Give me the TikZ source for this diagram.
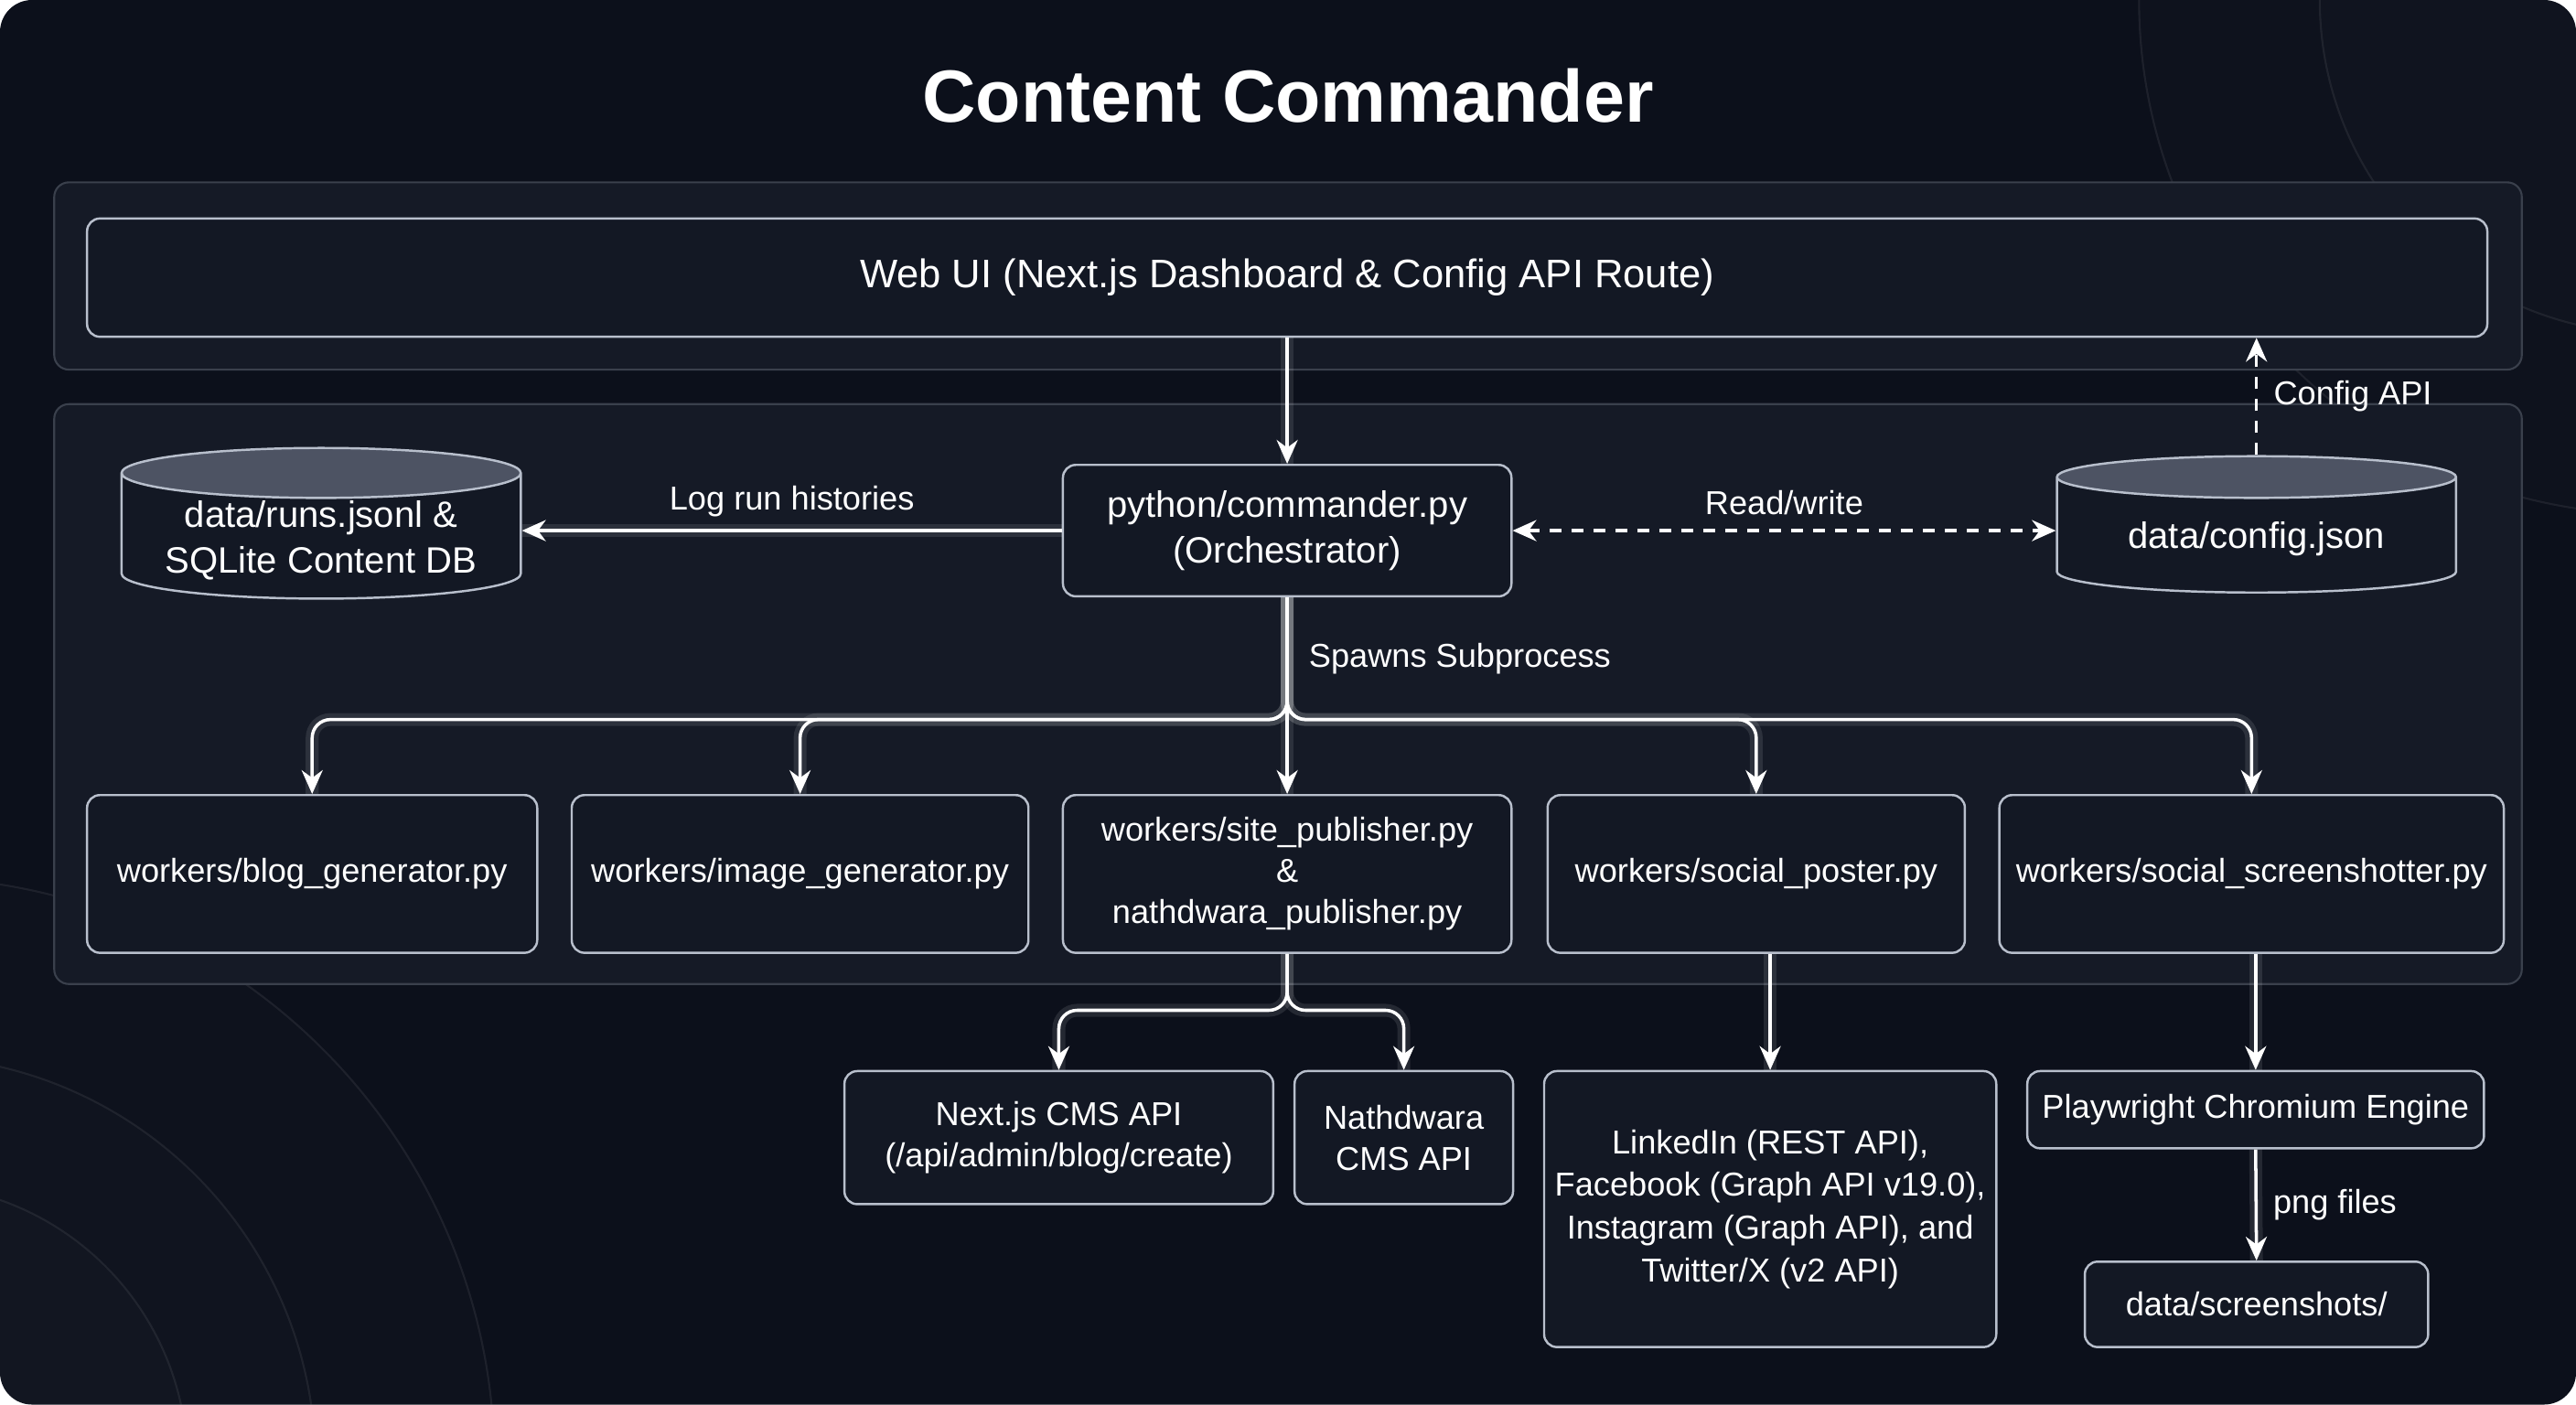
\documentclass[tikz,border=0pt]{standalone}
\usepackage{fontspec}
\setmainfont{Liberation Sans}
\usetikzlibrary{shapes.geometric,arrows.meta,positioning}

\definecolor{bgcol}{HTML}{0C101B}
\definecolor{panelfill}{HTML}{151A26}
\definecolor{panelline}{HTML}{3A404C}
\definecolor{boxfill}{HTML}{131824}
\definecolor{boxline}{HTML}{B8BFCC}
\definecolor{dbtop}{HTML}{4D5363}

\newcommand{\pxu}{0.1796mm}

\begin{document}
\begin{tikzpicture}[x=0.1796mm, y=0.1796mm, font=\fontsize{10.3}{12.8}\selectfont,
  panel/.style={draw=panelline, fill=panelfill, line width=0.6pt, rounded corners=1.6mm},
  box/.style={draw=boxline, fill=boxfill, line width=0.7pt, rounded corners=1.4mm, text=white, align=center},
  bigtext/.style={font=\fontsize{11.4}{14.3}\selectfont},
  db/.style={cylinder, shape border rotate=90, aspect=0.15, draw=boxline, line width=0.7pt,
    cylinder uses custom fill, cylinder end fill=dbtop, cylinder body fill=boxfill, text=white, align=center,
    bigtext, anchor=north, inner ysep=0.5pt},
  flow/.style={draw=white, line width=1pt, -{Stealth[length=2.6mm,width=2.3mm]},
    preaction={draw=white, opacity=0.1, line width=4pt, -}},
  dflow/.style={draw=white, line width=1pt, dash pattern=on 1.3mm off 1.1mm, -{Stealth[length=2.6mm,width=2.3mm]}},
  lbl/.style={text=white, inner sep=2pt},
  deco/.style={draw=white, draw opacity=0.07, fill=white, fill opacity=0.012, line width=0.6pt}]

  % background
  \fill[white] (0,0) rectangle (1568,-855);
  \fill[bgcol, rounded corners=3.5mm] (0,0) rectangle (1568,-855);
  \begin{scope}
    \clip[rounded corners=3.5mm] (0,0) rectangle (1568,-855);
    \draw[deco] (-56,-891) circle (357);
    \draw[deco] (-56,-891) circle (248);
    \draw[deco] (-56,-891) circle (170);
    \draw[deco] (1615,0) circle (313);
    \draw[deco] (1615,0) circle (203);
  \end{scope}

  \node[text=white, font=\fontsize{23}{26}\selectfont\bfseries] (title) at (784,-58) {Content Commander};

  % layers
  \draw[panel] (33,-111) rectangle (1535,-225);
  \draw[panel] (33,-246) rectangle (1535,-599);

  \node[box, font=\fontsize{12.4}{15}\selectfont, minimum width=1461*\pxu, minimum height=72*\pxu] (webui) at (783.5,-169)
    {Web UI (Next.js Dashboard \& Config API Route)};

  \node[box, bigtext, minimum width=273*\pxu, minimum height=80*\pxu] (orch) at (783.5,-323)
    {python/commander.py\\(Orchestrator)};
  \node[db, minimum width=243*\pxu, minimum height=91*\pxu] (runsdb) at (195.5,-272)
    {data/runs.jsonl \&\\SQLite Content DB};
  \node[db, minimum width=243*\pxu, minimum height=83*\pxu] (config) at (1373.5,-277)
    {data/config.json};

  % workers
  \node[box, minimum width=274*\pxu, minimum height=96*\pxu] (blog) at (190,-532) {workers/blog\_generator.py};
  \node[box, minimum width=278*\pxu, minimum height=96*\pxu] (image) at (487,-532) {workers/image\_generator.py};
  \node[box, minimum width=273*\pxu, minimum height=96*\pxu] (site) at (783.5,-532)
    {workers/site\_publisher.py\\\&\\nathdwara\_publisher.py};
  \node[box, minimum width=254*\pxu, minimum height=96*\pxu] (poster) at (1069,-532) {workers/social\_poster.py};
  \node[box, minimum width=307*\pxu, minimum height=96*\pxu] (shooter) at (1370.5,-532) {workers/social\_screenshotter.py};

  % external
  \node[box, minimum width=261*\pxu, minimum height=81*\pxu] (nextcms) at (644.5,-692.5)
    {Next.js CMS API\\(/api/admin/blog/create)};
  \node[box, minimum width=133*\pxu, minimum height=81*\pxu] (nathcms) at (854.5,-692.5)
    {Nathdwara\\CMS API};
  \node[box, font=\fontsize{10.3}{13.3}\selectfont, minimum width=271*\pxu, minimum height=168*\pxu] (linkedin) at (1077.5,-736)
    {LinkedIn (REST API),\\Facebook (Graph API v19.0),\\Instagram (Graph API), and\\Twitter/X (v2 API)};
  \node[box, minimum width=278*\pxu, minimum height=47*\pxu] (play) at (1373,-675.5)
    {Playwright Chromium Engine};
  \node[box, minimum width=209*\pxu, minimum height=52*\pxu] (shots) at (1373.5,-794)
    {data/screenshots/};

  \coordinate (split) at (783.5,-438);
  \coordinate (subsplit) at (783.5,-615);

  \draw[flow] (webui.south) -- (orch.north);
  \draw[flow] (orch.west) -- (orch.west -| runsdb.east) node[lbl, midway, above=0.6mm] {Log run histories};
  \draw[dflow, {Stealth[length=2.6mm,width=2.3mm]}-{Stealth[length=2.6mm,width=2.3mm]}]
    (orch.east) -- (orch.east -| config.west) node[lbl, midway, above=0.8mm] {Read/write};
  \draw[dflow] (config.north) -- (config.north |- webui.south) node[lbl, midway, right=1mm] {Config API};

  \draw[flow] (orch.south) -- (site.north) node[lbl, pos=0.31, right=1.5mm] {Spawns Subprocess};
  \foreach \w in {blog,image,poster,shooter}
    \draw[flow, rounded corners=2mm] (orch.south) -- (split) -| (\w.north);

  \foreach \w in {nextcms,nathcms}
    \draw[flow, rounded corners=2mm] (site.south) -- (subsplit) -| (\w.north);
  \draw[flow] (poster.south -| linkedin.north) -- (linkedin.north);
  \draw[flow] (shooter.south -| play.north) -- (play.north);
  \draw[flow] (play.south) -- (shots.north) node[lbl, midway, right=1mm] {png files};
\end{tikzpicture}
\end{document}
